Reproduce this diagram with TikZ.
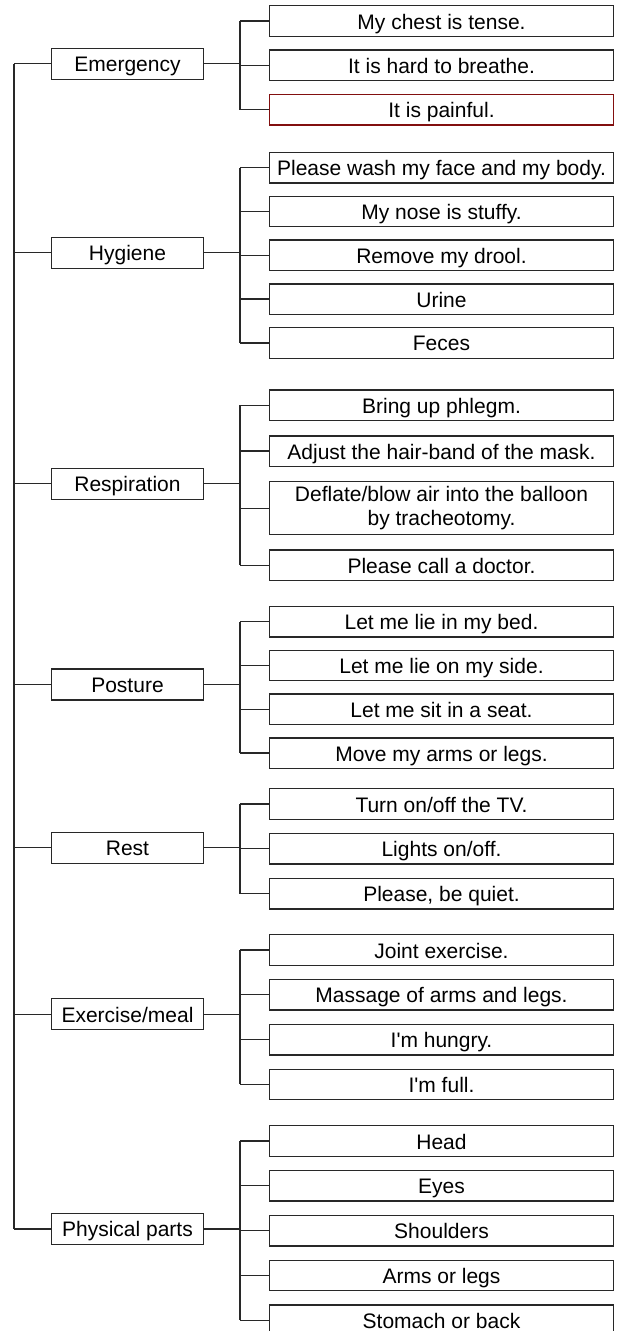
\documentclass[tikz,border=0pt]{standalone}
\usepackage{fontspec}
\setmainfont{Liberation Sans}
\usetikzlibrary{positioning}
\definecolor{linegray}{RGB}{40,40,40}
\definecolor{painred}{RGB}{130,15,15}

\begin{document}
\begin{tikzpicture}[x=1pt, y=-1pt, font=\fontsize{21}{24.5}\selectfont,
    conn/.style={draw=linegray, line width=1.3pt},
    catbox/.style={draw=linegray, line width=1.3pt, minimum width=151.5pt, minimum height=31pt, inner sep=0pt, text height=15.5pt, text depth=0pt},
    itembase/.style={draw=linegray, line width=1.3pt, minimum width=344.5pt, minimum height=30.5pt, inner sep=0pt},
    itembox/.style={itembase, text height=16pt, text depth=0pt}]
  \useasboundingbox (0,0) rectangle (621,1331);

  % categories
  \node[catbox] (emg) at (127.5,63.8) {Emergency};
  \node[catbox] (hyg) at (127.5,252.7) {Hygiene};
  \node[catbox] (res) at (127.5,483.8) {Respiration};
  \node[catbox] (pos) at (127.5,684.5) {Posture};
  \node[catbox] (rst) at (127.5,847.7) {Rest};
  \node[catbox] (exm) at (127.5,1014.3) {Exercise/meal};
  \node[catbox] (phy) at (127.5,1229) {Physical parts};

  % emergency
  \node[itembox] (emg1) at (441.5,21) {My chest is tense.};
  \node[itembox] (emg2) [below=12.5pt of emg1] {It is hard to breathe.};
  \node[itembox, draw=painred] (emg3) [below=12.5pt of emg2] {It is painful.};

  % hygiene
  \node[itembox] (hyg1) at (441.5,167.7) {Please wash my face and my body.};
  \node[itembox] (hyg2) [below=12pt of hyg1] {My nose is stuffy.};
  \node[itembox] (hyg3) [below=12pt of hyg2] {Remove my drool.};
  \node[itembox] (hyg4) [below=12pt of hyg3] {Urine};
  \node[itembox] (hyg5) [below=12pt of hyg4] {Feces};

  % respiration
  \node[itembox] (res1) at (441.5,405.3) {Bring up phlegm.};
  \node[itembox] (res2) [below=14pt of res1] {Adjust the hair-band of the mask.};
  \node[itembase, minimum height=53pt, align=center] (res3) [below=14pt of res2] {Deflate/blow air into the balloon\\by tracheotomy.};
  \node[itembox] (res4) [below=14pt of res3] {Please call a doctor.};

  % posture
  \node[itembox] (pos1) at (441.5,621.7) {Let me lie in my bed.};
  \node[itembox] (pos2) [below=12pt of pos1] {Let me lie on my side.};
  \node[itembox] (pos3) [below=12pt of pos2] {Let me sit in a seat.};
  \node[itembox] (pos4) [below=12pt of pos3] {Move my arms or legs.};

  % rest
  \node[itembox] (rst1) at (441.5,804) {Turn on/off the TV.};
  \node[itembox] (rst2) [below=13pt of rst1] {Lights on/off.};
  \node[itembox] (rst3) [below=13pt of rst2] {Please, be quiet.};

  % exercise/meal
  \node[itembox] (exm1) at (441.5,950) {Joint exercise.};
  \node[itembox] (exm2) [below=13pt of exm1] {Massage of arms and legs.};
  \node[itembox] (exm3) [below=13pt of exm2] {I\textquotesingle m hungry.};
  \node[itembox] (exm4) [below=13pt of exm3] {I\textquotesingle m full.};

  % physical parts
  \node[itembox] (phy1) at (441.5,1141) {Head};
  \node[itembox] (phy2) [below=13pt of phy1] {Eyes};
  \node[itembox] (phy3) [below=13pt of phy2] {Shoulders};
  \node[itembox] (phy4) [below=13pt of phy3] {Arms or legs};
  \node[itembox] (phy5) [below=13pt of phy4] {Stomach or back};

  % trunk
  \coordinate[left=37pt of emg.west] (trunk);
  \draw[conn] (trunk) -- (trunk |- phy.west);

  % branches
  \foreach \grp/\n in {emg/3, hyg/5, res/4, pos/4, rst/3, exm/4, phy/5} {
    \coordinate[left=28.6pt of \grp1.west] (\grp br);
    \draw[conn] (\grp.west) -- (\grp.west -| trunk);
    \draw[conn] (\grp.east) -- (\grp.east -| \grp br);
    \draw[conn] (\grp br) -- (\grp br |- \grp\n.west);
    \foreach \i in {1,...,\n}
      \draw[conn] (\grp\i.west) -- (\grp\i.west -| \grp br);
  }
\end{tikzpicture}
\end{document}
